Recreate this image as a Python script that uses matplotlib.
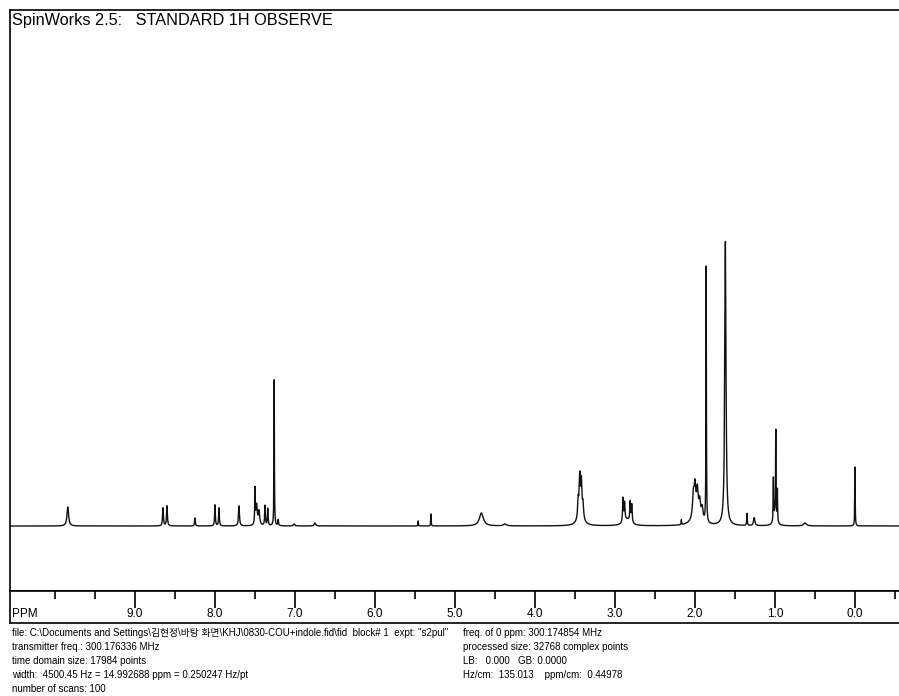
import numpy as np
import matplotlib
matplotlib.use("Agg")
import matplotlib.pyplot as plt

plt.rcParams['font.family'] = ['Liberation Sans', 'Noto Sans CJK KR', 'DejaVu Sans']

# peak list: shift (ppm), height (px above baseline), half width (ppm)
peak_ppm = [9.84, 8.65, 8.60, 8.25, 8.00, 7.95, 7.70,
            7.50, 7.48, 7.45, 7.375, 7.34, 7.26, 7.21, 7.01, 6.75,
            5.46, 5.30, 4.67, 4.375,
            3.46, 3.44, 3.42, 3.40, 3.43,
            2.90, 2.88, 2.81, 2.79, 2.85,
            2.17, 2.02, 2.00, 1.97, 1.94, 1.91, 1.98,
            1.86, 1.62, 1.35, 1.26,
            1.02, 0.99, 0.97, 1.00,
            0.625, 0.00]
peak_height = [19, 18, 20, 8, 21, 18, 20,
               35, 20, 14, 20, 17, 146, 6, 2, 3,
               5, 12, 13, 2,
               18, 38, 33, 14, 10,
               24, 18, 20, 18, 6,
               5, 22, 28, 24, 16, 12, 10,
               256, 284, 12, 8,
               42, 86, 32, 12,
               3, 59]
peak_width = [0.012, 0.006, 0.006, 0.005, 0.005, 0.005, 0.007,
              0.004, 0.010, 0.010, 0.005, 0.005, 0.003, 0.005, 0.01, 0.01,
              0.003, 0.003, 0.03, 0.02,
              0.008, 0.008, 0.008, 0.008, 0.04,
              0.006, 0.006, 0.006, 0.006, 0.05,
              0.003, 0.012, 0.012, 0.012, 0.012, 0.012, 0.06,
              0.003, 0.009, 0.004, 0.01,
              0.003, 0.003, 0.003, 0.02,
              0.02, 0.003]

major_ticks = [9.0, 8.0, 7.0, 6.0, 5.0, 4.0, 3.0, 2.0, 1.0, 0.0]
minor_ticks = [9.5, 8.5, 7.5, 6.5, 5.5, 4.5, 3.5, 2.5, 1.5, 0.5, -0.5, 10.0]

title = "SpinWorks 2.5:   STANDARD 1H OBSERVE"
info_left = [
    'file: C:\\Documents and Settings\\김현정\\바탕 화면\\KHJ\\0830-COU+indole.fid\\fid  block# 1  expt: "s2pul"',
    'transmitter freq.: 300.176336 MHz',
    'time domain size: 17984 points',
    'width:  4500.45 Hz = 14.992688 ppm = 0.250247 Hz/pt',
    'number of scans: 100',
]
info_right = [
    'freq. of 0 ppm: 300.174854 MHz',
    'processed size: 32768 complex points',
    'LB:   0.000   GB: 0.0000',
    'Hz/cm:  135.013    ppm/cm:  0.44978',
]

ppm = np.linspace(-0.7, 10.6, 60000)
spec = np.zeros_like(ppm)
for p, h, w in zip(peak_ppm, peak_height, peak_width):
    spec += h * w**2 / ((ppm - p)**2 + w**2)

W, H = 899, 696
fig = plt.figure(figsize=(W / 100, H / 100), dpi=100)

def px_axes(x0, y0, x1, y1):
    return fig.add_axes([x0 / W, 1 - y1 / H, (x1 - x0) / W, (y1 - y0) / H])

xl = (10.5625, -0.6875)

ax = px_axes(10, 10, 910, 591)
ax.plot(ppm, spec, color='#111111', lw=1.0)
ax.set_xlim(*xl)
ax.set_ylim(-65, 516)
ax.set_xticks([])
ax.set_yticks([])
for s in ax.spines.values():
    s.set_linewidth(1.2)
ax.text(2 / 900, 1 - 10 / 581, title, transform=ax.transAxes,
        fontsize=11.7, va='center', ha='left')

sc = px_axes(10, 591, 910, 623)
sc.set_xlim(*xl)
sc.set_ylim(0, 1)
sc.set_yticks([])
sc.xaxis.tick_top()
sc.set_xticks(major_ticks)
sc.set_xticks(minor_ticks, minor=True)
sc.tick_params(axis='x', which='major', direction='in', length=12, width=1.2, labeltop=False)
sc.tick_params(axis='x', which='minor', direction='in', length=6, width=1.2)
for s in sc.spines.values():
    s.set_linewidth(1.2)
for t in major_ticks:
    sc.text(t, 0.29, f"{t:.1f}", fontsize=8.5, ha='center', va='center')
sc.text(2 / 900, 0.29, "PPM", transform=sc.transAxes, fontsize=8.5, ha='left', va='center')

for i, line in enumerate(info_left):
    fig.text(12 / W, 1 - (633 + 14 * i) / H, line, fontsize=7.0, va='center', ha='left')
for i, line in enumerate(info_right):
    fig.text(463 / W, 1 - (633 + 14 * i) / H, line, fontsize=7.0, va='center', ha='left')

fig.savefig("out.png", dpi=100)
